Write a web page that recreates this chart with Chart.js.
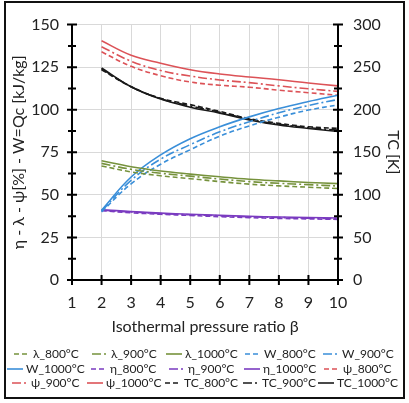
<!DOCTYPE html>
<html>
<head>
<meta charset="utf-8">
<script src="https://cdn.jsdelivr.net/npm/chart.js@4/dist/chart.umd.min.js"></script>
<style>
  body { margin: 0; background: #fff; }
</style>
</head>
<body>
<canvas id="myChart" width="409" height="403"></canvas>
<script>
// pressure ratio values
const beta = [2, 3, 4, 5, 6, 7, 8, 9, 10];

// lambda [%]
const lambda800 = [67, 63.5, 61.2, 59.5, 57.8, 56.3, 55.3, 54.5, 53.7];
const lambda900 = [68.5, 65, 62.7, 61, 59.3, 57.8, 56.8, 56, 55.2];
const lambda1000 = [70, 66.5, 64, 62.2, 60.6, 59.2, 58.2, 57.3, 56.6];

// W = Qc [kJ/kg]
const w800 = [40, 56.5, 68, 76.5, 84.5, 90.5, 95.6, 99.8, 102.8];
const w900 = [40.5, 58.5, 71, 79.5, 87, 93, 98.2, 102.5, 106];
const w1000 = [41, 60.5, 73.5, 83, 90, 95.8, 100.7, 104.8, 108.5];

// eta [%]
const eta800 = [40.7, 39.5, 38.6, 37.9, 37.2, 36.6, 36.2, 35.9, 35.6];
const eta900 = [41, 39.9, 39, 38.3, 37.7, 37.1, 36.7, 36.3, 36];
const eta1000 = [41.3, 40.2, 39.3, 38.6, 38, 37.4, 37, 36.7, 36.4];

// psi [%]
const psi800 = [134, 125.5, 120, 116.3, 114.4, 113.2, 111.5, 110, 108.5];
const psi900 = [137, 128.5, 123, 119.8, 117.5, 115.9, 114, 112.3, 110.8];
const psi1000 = [140.5, 132, 127.3, 123.5, 121, 119.2, 117.6, 115.7, 114];

// TC [K] (right axis)
const tc800 = [247, 227, 213.5, 206, 198, 189.5, 184, 180, 178];
const tc900 = [248, 227, 213, 204.5, 197, 188.8, 183, 179, 176];
const tc1000 = [249, 227, 212.5, 203, 196, 188, 182, 178, 174.5];

const leftTicks = [0, 25, 50, 75, 100, 125, 150];
const rightTicks = [0, 50, 100, 150, 200, 250, 300];

const green = "#76923c";
const blue = "#3a8fd9";
const purple = "#7a3bc0";
const red = "#dc5257";
const black = "#1a1a1a";

const dash800 = [5, 3];
const dash900 = [9, 3, 2, 3];
const dashSolid = [];

function makeSet(label, values, color, dash, axis) {
  return {
    label: label,
    data: values.map((v, i) => ({ x: beta[i], y: v })),
    borderColor: color,
    backgroundColor: color,
    borderDash: dash,
    borderWidth: 1.6,
    pointRadius: 0,
    tension: 0.4,
    yAxisID: axis,
    fill: false,
  };
}

const datasets = [
  makeSet("λ_800°C", lambda800, green, dash800, "y"),
  makeSet("λ_900°C", lambda900, green, dash900, "y"),
  makeSet("λ_1000°C", lambda1000, green, dashSolid, "y"),
  makeSet("W_800°C", w800, blue, dash800, "y"),
  makeSet("W_900°C", w900, blue, dash900, "y"),
  makeSet("W_1000°C", w1000, blue, dashSolid, "y"),
  makeSet("η_800°C", eta800, purple, dash800, "y"),
  makeSet("η_900°C", eta900, purple, dash900, "y"),
  makeSet("η_1000°C", eta1000, purple, dashSolid, "y"),
  makeSet("ψ_800°C", psi800, red, dash800, "y"),
  makeSet("ψ_900°C", psi900, red, dash900, "y"),
  makeSet("ψ_1000°C", psi1000, red, dashSolid, "y"),
  makeSet("TC_800°C", tc800, black, dash800, "y1"),
  makeSet("TC_900°C", tc900, black, dash900, "y1"),
  makeSet("TC_1000°C", tc1000, black, dashSolid, "y1"),
];

const textColor = "#222";
const fontFamily = "Lato, sans-serif";

// thick axis lines with crossing tick marks, like the original
const axisPlugin = {
  id: "axisLines",
  afterDatasetsDraw(chart) {
    const ctx = chart.ctx;
    const area = chart.chartArea;
    const x = chart.scales.x;
    const y = chart.scales.y;
    const y1 = chart.scales.y1;
    ctx.save();
    ctx.strokeStyle = "#000";
    ctx.lineWidth = 2;
    ctx.beginPath();
    ctx.moveTo(area.left, area.top - 1);
    ctx.lineTo(area.left, area.bottom);
    ctx.lineTo(area.right, area.bottom);
    ctx.moveTo(area.right, area.top - 1);
    ctx.lineTo(area.right, area.bottom);
    // left axis ticks
    for (let v = 0; v <= 150; v += 12.5) {
      const py = y.getPixelForValue(v);
      const len = v % 25 === 0 ? 5 : 4;
      ctx.moveTo(area.left - len, py);
      ctx.lineTo(area.left + len, py);
    }
    // right axis ticks
    for (let v = 0; v <= 300; v += 25) {
      const py = y1.getPixelForValue(v);
      const len = v % 50 === 0 ? 5 : 4;
      ctx.moveTo(area.right - len, py);
      ctx.lineTo(area.right + len, py);
    }
    // x axis ticks
    for (let v = 1; v <= 10; v++) {
      const px = x.getPixelForValue(v);
      ctx.moveTo(px, area.bottom - 5);
      ctx.lineTo(px, area.bottom + 5);
    }
    ctx.stroke();
    ctx.restore();
  },
};

// 5-column legend (entries centred in their cell) plus the outer frame
const legendPlugin = {
  id: "gridLegend",
  afterDraw(chart) {
    const ctx = chart.ctx;
    const colCenter = [46, 124, 202, 280, 358];
    const rowY = [354, 369, 383];
    const lineLen = 16;
    const gap = 3;
    ctx.save();
    ctx.font = "12px " + fontFamily;
    ctx.textBaseline = "middle";
    ctx.fillStyle = textColor;
    chart.data.datasets.forEach((ds, i) => {
      const tw = ctx.measureText(ds.label).width;
      const cx = Math.round(colCenter[i % 5] - (lineLen + gap + tw) / 2);
      const cy = rowY[Math.floor(i / 5)];
      ctx.strokeStyle = ds.borderColor;
      ctx.lineWidth = 1.6;
      ctx.setLineDash(ds.borderDash);
      ctx.beginPath();
      ctx.moveTo(cx, cy);
      ctx.lineTo(cx + lineLen, cy);
      ctx.stroke();
      ctx.setLineDash([]);
      ctx.fillText(ds.label, cx + lineLen + gap, cy);
    });
    ctx.strokeStyle = "#111";
    ctx.lineWidth = 2;
    ctx.strokeRect(5, 2, 399, 396);
    ctx.restore();
  },
};

const ctx = document.getElementById("myChart").getContext("2d");
const myChart = new Chart(ctx, {
  type: "line",
  data: { datasets: datasets },
  options: {
    responsive: false,
    animation: false,
    layout: { padding: { top: 22, bottom: 65, left: 0, right: 0 } },
    plugins: {
      legend: { display: false },
      tooltip: { enabled: false },
    },
    scales: {
      x: {
        type: "linear",
        min: 1,
        max: 10,
        ticks: {
          stepSize: 1,
          padding: 13,
          color: textColor,
          font: { family: fontFamily, size: 16 },
        },
        grid: { color: "#d9d9d9", drawTicks: false },
        border: { display: false },
        title: {
          display: true,
          text: "Isothermal pressure ratio β",
          color: textColor,
          font: { family: fontFamily, size: 16 },
          padding: { top: 0, bottom: 2 },
        },
        afterFit(scale) {
          scale.height = 58;
        },
      },
      y: {
        position: "left",
        min: 0,
        max: 150,
        ticks: {
          stepSize: 12.5,
          padding: 13,
          color: textColor,
          font: { family: fontFamily, size: 16 },
          callback: (v) => (leftTicks.includes(v) ? v : ""),
        },
        grid: { color: "#d9d9d9", drawTicks: false },
        border: { display: false },
        title: {
          display: true,
          text: "η - λ - ψ[%] - W=Qc [kJ/kg]",
          color: textColor,
          font: { family: fontFamily, size: 16 },
          padding: { top: 9, bottom: 0 },
        },
        afterFit(scale) {
          scale.width = 72;
        },
      },
      y1: {
        position: "right",
        min: 0,
        max: 300,
        ticks: {
          stepSize: 25,
          padding: 15,
          color: textColor,
          font: { family: fontFamily, size: 16 },
          callback: (v) => (rightTicks.includes(v) ? v : ""),
        },
        grid: { display: false, drawTicks: false },
        border: { display: false },
        title: {
          display: true,
          text: "TC [K]",
          color: textColor,
          font: { family: fontFamily, size: 16 },
          padding: { top: 6, bottom: 0 },
        },
        afterFit(scale) {
          scale.width = 71;
        },
      },
    },
  },
  plugins: [axisPlugin, legendPlugin],
});
</script>
</body>
</html>
